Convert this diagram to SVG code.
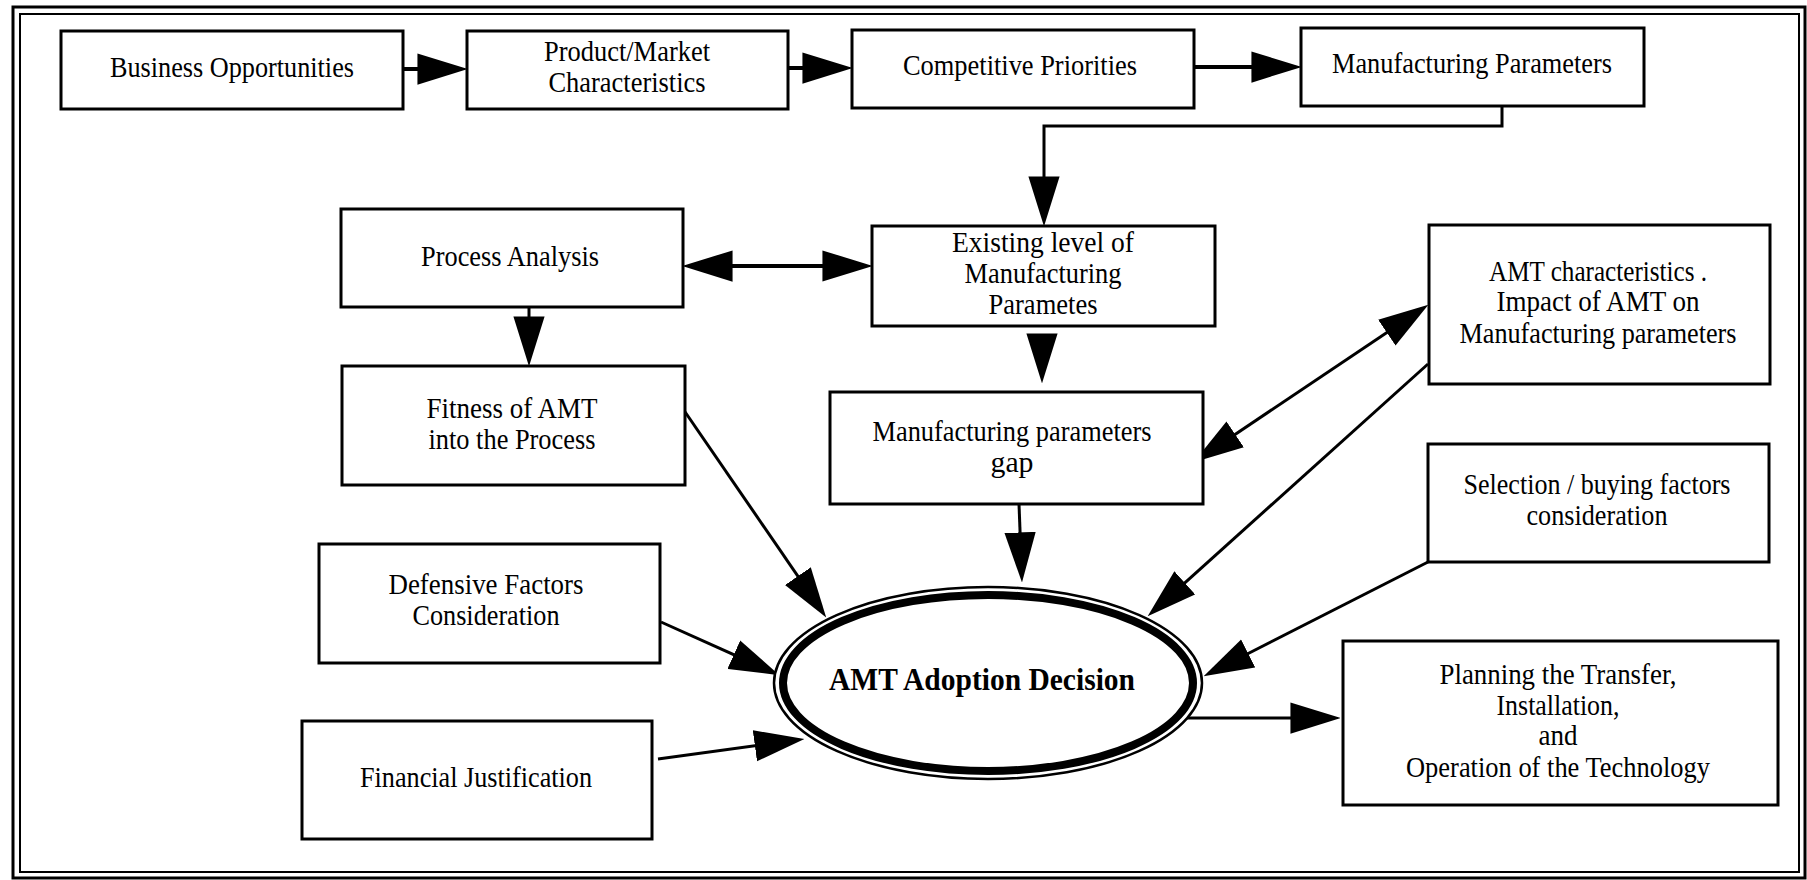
<svg xmlns="http://www.w3.org/2000/svg" width="1807" height="880" viewBox="0 0 1807 880">
<defs>
<style>
.box{fill:#fff;stroke:#000;stroke-width:3}
.t{font-family:"Liberation Serif","Times New Roman",serif;font-size:29px;fill:#000;text-anchor:middle}
.b{font-weight:bold;font-size:32px}
.c{fill:none;stroke:#000;stroke-width:3}
.c4{stroke-width:4}
.frame{fill:none;stroke:#000}
</style>
<marker id="ah" markerUnits="userSpaceOnUse" markerWidth="50" markerHeight="32" refX="38" refY="15" orient="auto-start-reverse" viewBox="0 0 48 30">
<path d="M0,0 L48,15 L0,30 Z" fill="#000"/>
</marker>
</defs>
<rect width="1807" height="880" fill="#fff"/>
<rect class="frame" x="13" y="7" width="1792" height="871" stroke-width="3"/>
<rect class="frame" x="20" y="14" width="1779" height="858" stroke-width="2"/>

<g id="connectors">
<path class="c c4" d="M403,69 L457,69" marker-end="url(#ah)"/>
<path class="c c4" d="M788,68 L842,68" marker-end="url(#ah)"/>
<path class="c c4" d="M1194,67 L1291,67" marker-end="url(#ah)"/>
<path class="c" d="M1502,106 L1502,126 L1044,126 L1044,216" marker-end="url(#ah)"/>
<path class="c c4" d="M693,266 L862,266" marker-start="url(#ah)" marker-end="url(#ah)"/>
<path class="c" d="M529,307 L529,356" marker-end="url(#ah)"/>
<path class="c" d="M1042,335 L1042,373" marker-end="url(#ah)"/>
<path class="c" d="M1202.3,456.4 L1419.7,310.6" marker-start="url(#ah)" marker-end="url(#ah)"/>
<path class="c" d="M681,406 L820.3,608.8" marker-end="url(#ah)"/>
<path class="c" d="M1019,504 L1021.6,572" marker-end="url(#ah)"/>
<path class="c" d="M1428,364 L1155.4,609.3" marker-end="url(#ah)"/>
<path class="c" d="M1428,562 L1212.9,671.5" marker-end="url(#ah)"/>
<path class="c" d="M661,622 L769.9,670.9" marker-end="url(#ah)"/>
<path class="c" d="M658,759 L794.1,740.4" marker-end="url(#ah)"/>
<path class="c" d="M1187,718 L1330,718" marker-end="url(#ah)"/>
</g>

<g id="business-opportunities">
<rect class="box" x="61" y="31" width="342" height="78"/>
<text class="t" x="232" y="77" textLength="244" lengthAdjust="spacingAndGlyphs">Business Opportunities</text>
</g>
<g id="product-market">
<rect class="box" x="467" y="31" width="321" height="78"/>
<text class="t" x="627" y="61" textLength="166" lengthAdjust="spacingAndGlyphs">Product/Market</text>
<text class="t" x="627" y="92" textLength="157" lengthAdjust="spacingAndGlyphs">Characteristics</text>
</g>
<g id="competitive-priorities">
<rect class="box" x="852" y="30" width="342" height="78"/>
<text class="t" x="1020" y="75" textLength="234" lengthAdjust="spacingAndGlyphs">Competitive Priorities</text>
</g>
<g id="manufacturing-parameters">
<rect class="box" x="1301" y="28" width="343" height="78"/>
<text class="t" x="1472" y="73" textLength="280" lengthAdjust="spacingAndGlyphs">Manufacturing Parameters</text>
</g>
<g id="process-analysis">
<rect class="box" x="341" y="209" width="342" height="98"/>
<text class="t" x="510" y="266" textLength="178" lengthAdjust="spacingAndGlyphs">Process Analysis</text>
</g>
<g id="existing-level">
<rect class="box" x="872" y="226" width="343" height="100"/>
<text class="t" x="1043" y="252" textLength="182" lengthAdjust="spacingAndGlyphs">Existing level of</text>
<text class="t" x="1043" y="283" textLength="157" lengthAdjust="spacingAndGlyphs">Manufacturing</text>
<text class="t" x="1043" y="314" textLength="109" lengthAdjust="spacingAndGlyphs">Parametes</text>
</g>
<g id="amt-characteristics">
<rect class="box" x="1429" y="225" width="341" height="159"/>
<text class="t" x="1598" y="281" textLength="218" lengthAdjust="spacingAndGlyphs">AMT characteristics .</text>
<text class="t" x="1598" y="311" textLength="203" lengthAdjust="spacingAndGlyphs">Impact of AMT on</text>
<text class="t" x="1598" y="343" textLength="277" lengthAdjust="spacingAndGlyphs">Manufacturing parameters</text>
</g>
<g id="fitness-of-amt">
<rect class="box" x="342" y="366" width="343" height="119"/>
<text class="t" x="512" y="418" textLength="171" lengthAdjust="spacingAndGlyphs">Fitness of AMT</text>
<text class="t" x="512" y="449" textLength="167" lengthAdjust="spacingAndGlyphs">into the Process</text>
</g>
<g id="parameters-gap">
<rect class="box" x="830" y="392" width="373" height="112"/>
<text class="t" x="1012" y="441" textLength="279" lengthAdjust="spacingAndGlyphs">Manufacturing parameters</text>
<text class="t" x="1012" y="472" textLength="43" lengthAdjust="spacingAndGlyphs">gap</text>
</g>
<g id="selection-buying">
<rect class="box" x="1428" y="444" width="341" height="118"/>
<text class="t" x="1597" y="494" textLength="267" lengthAdjust="spacingAndGlyphs">Selection / buying factors</text>
<text class="t" x="1597" y="525" textLength="141" lengthAdjust="spacingAndGlyphs">consideration</text>
</g>
<g id="defensive-factors">
<rect class="box" x="319" y="544" width="341" height="119"/>
<text class="t" x="486" y="594" textLength="195" lengthAdjust="spacingAndGlyphs">Defensive Factors</text>
<text class="t" x="486" y="625" textLength="147" lengthAdjust="spacingAndGlyphs">Consideration</text>
</g>
<g id="financial-justification">
<rect class="box" x="302" y="721" width="350" height="118"/>
<text class="t" x="476" y="787" textLength="232" lengthAdjust="spacingAndGlyphs">Financial Justification</text>
</g>
<g id="planning-transfer">
<rect class="box" x="1343" y="641" width="435" height="164"/>
<text class="t" x="1558" y="684" textLength="237" lengthAdjust="spacingAndGlyphs">Planning the Transfer,</text>
<text class="t" x="1558" y="715" textLength="123" lengthAdjust="spacingAndGlyphs">Installation,</text>
<text class="t" x="1558" y="745" textLength="39" lengthAdjust="spacingAndGlyphs">and</text>
<text class="t" x="1558" y="777" textLength="304" lengthAdjust="spacingAndGlyphs">Operation of the Technology</text>
</g>
<g id="amt-adoption-decision">
<ellipse cx="988" cy="683" rx="214" ry="96" fill="#fff" stroke="#000" stroke-width="2.5"/>
<ellipse cx="988" cy="683" rx="205" ry="88" fill="#fff" stroke="#000" stroke-width="8"/>
<text class="t b" x="982" y="690" textLength="306" lengthAdjust="spacingAndGlyphs">AMT Adoption Decision</text>
</g>
</svg>
